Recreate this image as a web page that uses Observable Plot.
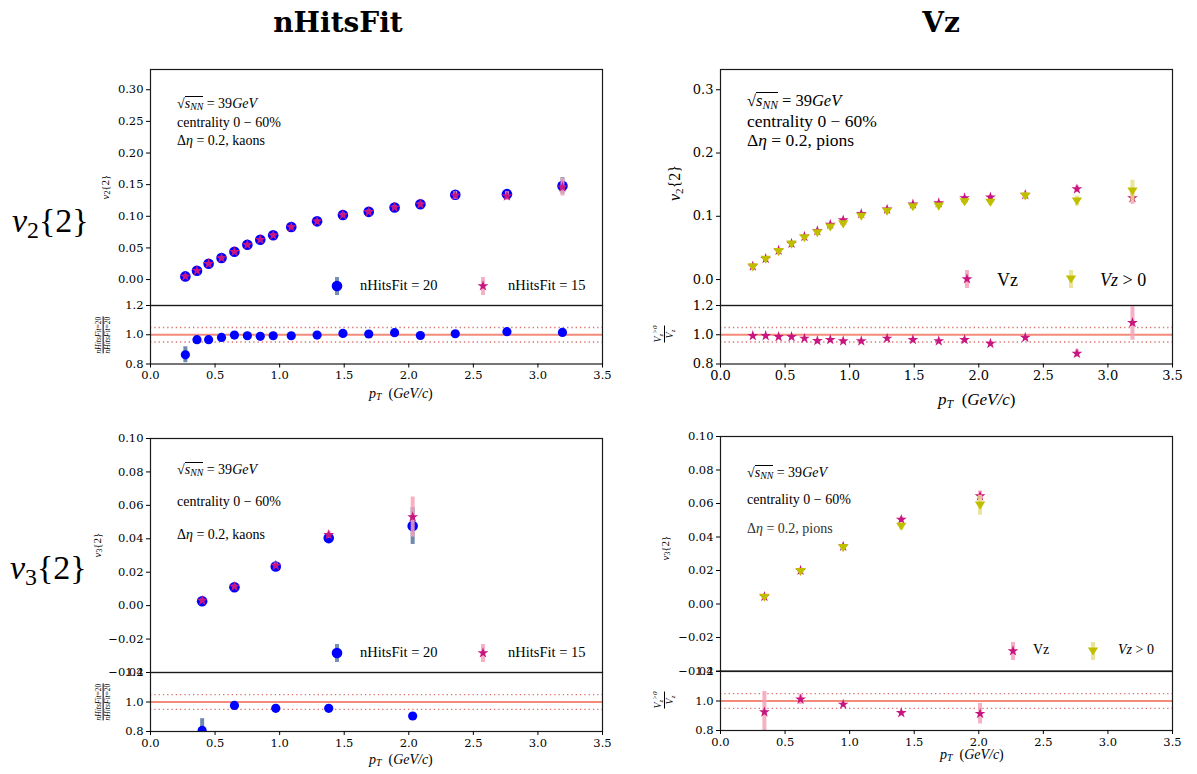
<!DOCTYPE html>
<html><head><meta charset="utf-8">
<script src="https://cdn.jsdelivr.net/npm/d3@7"></script>
<script src="https://cdn.jsdelivr.net/npm/@observablehq/plot@0.6"></script>
<style>
body{margin:0;background:#fff;}
#root{position:relative;width:1197px;height:774px;overflow:hidden;font-family:'Liberation Serif',serif;color:#000;background:#fff}
.abs{position:absolute;white-space:nowrap;line-height:1}
sub{font-size:70%;vertical-align:-0.25em;line-height:0}
#root svg text{font-family:'DejaVu Serif',serif}
</style></head><body><div id="root"></div>
<script>
// ---------------- data ----------------
const xTicks = [0, 0.5, 1, 1.5, 2, 2.5, 3, 3.5];
const v2TicksL = [0, 0.05, 0.10, 0.15, 0.20, 0.25, 0.30];
const v2TicksR = [0, 0.1, 0.2, 0.3];
const v3Ticks = [-0.04, -0.02, 0, 0.02, 0.04, 0.06, 0.08, 0.10];
const ratioTicks = [0.8, 1.0, 1.2];
const ratioUnity = [1];
const ratioBand = [0.95, 1.05];

// v2{2} kaons, nHitsFit comparison
const kaonPtV2 = [0.27,0.36,0.45,0.55,0.65,0.75,0.85,0.95,1.09,1.29,1.49,1.69,1.89,2.09,2.36,2.76,3.19];
const kaonV2_20 = [0.005,0.014,0.025,0.034,0.044,0.055,0.063,0.070,0.083,0.092,0.102,0.107,0.114,0.119,0.134,0.135,0.148];
const kaonV2_20Err = [0.002,0.002,0.002,0.002,0.002,0.002,0.002,0.002,0.002,0.002,0.003,0.003,0.003,0.003,0.005,0.006,0.013];
const kaonV2_15 = [0.005,0.014,0.025,0.034,0.044,0.055,0.063,0.070,0.083,0.092,0.102,0.107,0.114,0.119,0.133,0.132,0.146];
const kaonV2_15Err = [0.002,0.002,0.002,0.002,0.002,0.002,0.002,0.002,0.002,0.002,0.003,0.003,0.003,0.003,0.006,0.007,0.014];
const kaonV2Ratio = [0.863,0.966,0.966,0.982,0.998,0.993,0.989,0.993,0.993,0.998,1.009,1.005,1.014,0.995,1.007,1.021,1.016];
const kaonV2RatioErr = [0.055,0.012,0.010,0.008,0.008,0.008,0.008,0.008,0.008,0.008,0.008,0.008,0.010,0.010,0.012,0.015,0.020];

// v2{2} pions, Vz comparison
const pionPtV2 = [0.25,0.35,0.45,0.55,0.65,0.75,0.85,0.95,1.09,1.29,1.49,1.69,1.89,2.09,2.36,2.76,3.19];
const pionV2_vz = [0.021,0.033,0.046,0.057,0.068,0.077,0.087,0.094,0.104,0.111,0.119,0.121,0.129,0.130,0.134,0.143,0.129];
const pionV2_vzErr = [0.001,0.001,0.001,0.001,0.001,0.001,0.001,0.001,0.001,0.002,0.002,0.002,0.002,0.003,0.004,0.005,0.010];
const pionV2_vz0 = [0.020,0.032,0.044,0.056,0.066,0.074,0.083,0.088,0.100,0.108,0.115,0.116,0.123,0.122,0.132,0.124,0.140];
const pionV2_vz0Err = [0.002,0.002,0.002,0.002,0.002,0.002,0.002,0.002,0.002,0.003,0.003,0.003,0.004,0.004,0.005,0.008,0.017];
const pionV2Ratio = [0.993,0.993,0.986,0.986,0.975,0.959,0.966,0.957,0.957,0.975,0.966,0.957,0.966,0.940,0.981,0.872,1.082];
const pionV2RatioErr = [0.008,0.008,0.008,0.008,0.008,0.008,0.008,0.008,0.010,0.010,0.010,0.012,0.012,0.015,0.020,0.025,0.120];

// v3{2} kaons
const kaonPtV3 = [0.40,0.65,0.97,1.38,2.03];
const kaonV3_20 = [0.0026,0.0110,0.0234,0.0404,0.0476];
const kaonV3_20Err = [0.001,0.001,0.0015,0.002,0.011];
const kaonV3_15 = [0.0030,0.0114,0.0240,0.0424,0.0530];
const kaonV3_15Err = [0.001,0.001,0.0015,0.002,0.012];
const kaonV3Ratio = [0.807,0.977,0.957,0.957,0.905];
const kaonV3RatioErr = [0.08,0.012,0.012,0.012,0.012];

// v3{2} pions
const pionPtV3 = [0.34,0.62,0.95,1.40,2.01];
const pionV3_vz = [0.0044,0.0200,0.0344,0.0504,0.0644];
const pionV3_vzErr = [0.001,0.001,0.001,0.0015,0.003];
const pionV3_vz0 = [0.0040,0.0194,0.0336,0.0464,0.0590];
const pionV3_vz0Err = [0.001,0.001,0.0015,0.002,0.006];
const pionV3Ratio = [0.925,1.011,0.977,0.920,0.914];
const pionV3RatioErr = [0.14,0.035,0.015,0.010,0.070];

// ---------------- styles ----------------
const SERIF = "'DejaVu Serif', serif";
const C_BLUE = "#0000ff", C_BLUE_ERR = "#55759f";
const C_STAR = "#c8157f", C_STAR_ERR = "#f5a3ba";
const C_TRI = "#bfbf00", C_TRI_ERR = "#e8df8c";
const triangleDown = {draw(ctx, size) {
  const s = Math.sqrt(size / Math.PI);
  ctx.moveTo(-s * 1.15, -s * 0.8); ctx.lineTo(s * 1.15, -s * 0.8); ctx.lineTo(0, s); ctx.closePath();
}};

const rows = (xs, ys, es) => xs.map((x, i) => ({x, y: ys[i], e: es[i]}));

function errMarks(data, color, width = 4, opacity = 0.85) {
  return Plot.ruleX(data, {x: "x", y1: d => d.y - d.e, y2: d => d.y + d.e, stroke: color, strokeWidth: width, strokeOpacity: opacity, clip: true});
}
function circles(data, r = 5.3) { return Plot.dot(data, {x: "x", y: "y", r, fill: C_BLUE, stroke: "none", clip: true}); }
function stars(data, r = 3.4) { return Plot.dot(data, {x: "x", y: "y", r, symbol: "star", fill: C_STAR, stroke: "none", clip: true}); }
function tris(data, r = 4.5) { return Plot.dot(data, {x: "x", y: "y", r, symbol: triangleDown, fill: C_TRI, stroke: "none", clip: true}); }
function ratioLines() {
  return [
    Plot.ruleY(ratioBand, {stroke: "#d9706e", strokeWidth: 1.4, strokeDasharray: "1.3,3"}),
    Plot.ruleY(ratioUnity, {stroke: "#f48a7a", strokeWidth: 2})
  ];
}

const root = document.getElementById("root");
const ML = 60, MR = 12, MT = 12;

function panel({x0, x1, y0, y1, yDomain, yTicks, yFmt, fs, xAxis, marks}) {
  const mb = xAxis ? 36 : 2;
  const W = ML + (x1 - x0) + MR, H = MT + (y1 - y0) + mb;
  const svg = Plot.plot({
    width: W, height: H, marginLeft: ML, marginRight: MR, marginTop: MT, marginBottom: mb,
    style: {fontFamily: SERIF, fontSize: fs + "px", background: "none", overflow: "visible", color: "#000"},
    x: {domain: [0, 3.5], axis: null},
    y: {domain: yDomain, axis: null},
    marks: [
      ...marks,
      Plot.frame({stroke: "#1a1a1a", strokeWidth: 1.2}),
      Plot.axisY({ticks: yTicks, tickFormat: yFmt, tickSize: 4, tickPadding: 3, fontSize: fs, fontFamily: SERIF, label: null}),
      ...(xAxis ? [Plot.axisX({ticks: xTicks, tickFormat: d3.format(".1f"), tickSize: 4, tickPadding: 3, fontSize: fs, fontFamily: SERIF, label: null})] : [])
    ]
  });
  svg.style.position = "absolute";
  svg.style.left = (x0 - ML) + "px";
  svg.style.top = (y0 - MT) + "px";
  root.appendChild(svg);
}

function addHTML(html, x, baseline, size, opts = {}) {
  const d = document.createElement("div");
  d.className = "abs";
  d.style.left = x + "px";
  d.style.top = (baseline - 0.84 * size) + "px";
  d.style.fontSize = size + "px";
  if (opts.family) d.style.fontFamily = opts.family;
  if (opts.weight) d.style.fontWeight = opts.weight;
  if (opts.center) d.style.transform = "translateX(-50%)";
  if (opts.color) d.style.color = opts.color;
  d.innerHTML = html;
  root.appendChild(d);
}
function addRot(html, cx, cy, size) {
  const d = document.createElement("div");
  d.className = "abs";
  d.style.left = cx + "px"; d.style.top = cy + "px"; d.style.fontSize = size + "px";
  d.style.transform = "translate(-50%,-50%) rotate(-90deg)";
  d.innerHTML = html; root.appendChild(d);
}
function legendMarker(kind, cx, cy, k = 1) {
  let inner = "";
  if (kind === "circle") inner = `<rect x="-2" y="-9" width="4" height="18" fill="${C_BLUE_ERR}" opacity="0.8"/><circle r="${5.3*k}" fill="${C_BLUE}"/>`;
  if (kind === "star") inner = `<rect x="-2" y="-9" width="4" height="18" fill="${C_STAR_ERR}" opacity="0.85"/><path d="${d3.symbol(d3.symbolStar, Math.PI*3.4*3.4*k*k)()}" fill="${C_STAR}"/>`;
  if (kind === "tri") inner = `<rect x="-2" y="-9" width="4" height="18" fill="${C_TRI_ERR}" opacity="0.85"/><path d="${d3.symbol(triangleDown, Math.PI*4.5*4.5*k*k)()}" fill="${C_TRI}"/>`;
  const d = document.createElement("div");
  d.className = "abs";
  d.style.left = (cx - 12) + "px"; d.style.top = (cy - 12) + "px";
  d.innerHTML = `<svg width="24" height="24" viewBox="-12 -12 24 24">${inner}</svg>`;
  root.appendChild(d);
}

const f2 = d3.format(".2f"), f1 = d3.format(".1f");

// ---------------- top-left: v2 kaons nHitsFit ----------------
panel({x0: 150, x1: 602, y0: 69, y1: 305, yDomain: [-0.041, 0.332], yTicks: v2TicksL, yFmt: f2, fs: 11.5, xAxis: false, marks: [
  errMarks(rows(kaonPtV2, kaonV2_20, kaonV2_20Err), C_BLUE_ERR),
  circles(rows(kaonPtV2, kaonV2_20, kaonV2_20Err)),
  errMarks(rows(kaonPtV2, kaonV2_15, kaonV2_15Err), C_STAR_ERR),
  stars(rows(kaonPtV2, kaonV2_15, kaonV2_15Err))
]});
panel({x0: 150, x1: 602, y0: 305, y1: 363.5, yDomain: [0.8, 1.2], yTicks: ratioTicks, yFmt: f1, fs: 11.5, xAxis: true, marks: [
  ...ratioLines(),
  errMarks(rows(kaonPtV2, kaonV2Ratio, kaonV2RatioErr), C_BLUE_ERR),
  circles(rows(kaonPtV2, kaonV2Ratio, kaonV2RatioErr), 4.6)
]});

// ---------------- top-right: v2 pions Vz ----------------
panel({x0: 720, x1: 1172, y0: 69, y1: 305, yDomain: [-0.041, 0.332], yTicks: v2TicksR, yFmt: f1, fs: 13, xAxis: false, marks: [
  errMarks(rows(pionPtV2, pionV2_vz, pionV2_vzErr), C_STAR_ERR),
  stars(rows(pionPtV2, pionV2_vz, pionV2_vzErr)),
  errMarks(rows(pionPtV2, pionV2_vz0, pionV2_vz0Err), C_TRI_ERR),
  tris(rows(pionPtV2, pionV2_vz0, pionV2_vz0Err))
]});
panel({x0: 720, x1: 1172, y0: 305, y1: 363.5, yDomain: [0.8, 1.2], yTicks: ratioTicks, yFmt: f1, fs: 13, xAxis: true, marks: [
  ...ratioLines(),
  errMarks(rows(pionPtV2, pionV2Ratio, pionV2RatioErr), C_STAR_ERR),
  stars(rows(pionPtV2, pionV2Ratio, pionV2RatioErr))
]});

// ---------------- bottom-left: v3 kaons nHitsFit ----------------
panel({x0: 150, x1: 602, y0: 438, y1: 672, yDomain: [-0.04, 0.10], yTicks: v3Ticks, yFmt: f2, fs: 11.5, xAxis: false, marks: [
  errMarks(rows(kaonPtV3, kaonV3_20, kaonV3_20Err), C_BLUE_ERR),
  circles(rows(kaonPtV3, kaonV3_20, kaonV3_20Err)),
  errMarks(rows(kaonPtV3, kaonV3_15, kaonV3_15Err), C_STAR_ERR),
  stars(rows(kaonPtV3, kaonV3_15, kaonV3_15Err))
]});
panel({x0: 150, x1: 602, y0: 672, y1: 731, yDomain: [0.8, 1.2], yTicks: ratioTicks, yFmt: f1, fs: 11.5, xAxis: true, marks: [
  ...ratioLines(),
  errMarks(rows(kaonPtV3, kaonV3Ratio, kaonV3RatioErr), C_BLUE_ERR),
  circles(rows(kaonPtV3, kaonV3Ratio, kaonV3RatioErr), 4.6)
]});

// ---------------- bottom-right: v3 pions Vz ----------------
panel({x0: 720, x1: 1172, y0: 436, y1: 670.5, yDomain: [-0.04, 0.10], yTicks: v3Ticks, yFmt: f2, fs: 11.5, xAxis: false, marks: [
  errMarks(rows(pionPtV3, pionV3_vz, pionV3_vzErr), C_STAR_ERR),
  stars(rows(pionPtV3, pionV3_vz, pionV3_vzErr)),
  errMarks(rows(pionPtV3, pionV3_vz0, pionV3_vz0Err), C_TRI_ERR),
  tris(rows(pionPtV3, pionV3_vz0, pionV3_vz0Err))
]});
panel({x0: 720, x1: 1172, y0: 670.5, y1: 729.5, yDomain: [0.8, 1.2], yTicks: ratioTicks, yFmt: f1, fs: 11.5, xAxis: true, marks: [
  ...ratioLines(),
  errMarks(rows(pionPtV3, pionV3Ratio, pionV3RatioErr), C_STAR_ERR),
  stars(rows(pionPtV3, pionV3Ratio, pionV3RatioErr))
]});

// ---------------- titles & labels ----------------
addHTML("nHitsFit", 338, 33, 28, {family: SERIF, weight: "bold", center: true});
addHTML("Vz", 941, 33, 28, {family: SERIF, weight: "bold", center: true});
addHTML("<i>v</i><sub>2</sub>{2}", 12, 233, 34);
addHTML("<i>v</i><sub>3</sub>{2}", 10, 580, 34);

const sqrtS = `√<span style="display:inline-block;border-top:1px solid #000;line-height:1"><i>s</i><sub><i>NN</i></sub></span> = 39<i>GeV</i>`;
// annotations
addHTML(sqrtS, 177, 107.5, 14);
addHTML("centrality 0 − 60%", 177, 127.5, 14);
addHTML("Δ<i>η</i> = 0.2, kaons", 177, 146, 14);
addHTML(sqrtS, 747, 105.5, 16.5);
addHTML("centrality 0 − 60%", 747, 128, 17.5);
addHTML("Δ<i>η</i> = 0.2, pions", 747, 146.5, 17.5);
addHTML(sqrtS, 177, 474, 14);
addHTML("centrality 0 − 60%", 177, 507, 14);
addHTML("Δ<i>η</i> = 0.2, kaons", 177, 540, 14);
addHTML(sqrtS, 747, 477, 14);
addHTML("centrality 0 − 60%", 747, 505, 14);
addHTML("Δ<i>η</i> = 0.2, pions", 747, 533.5, 14, {color: "#333"});

// legends
legendMarker("circle", 337, 285.7); addHTML("nHitsFit = 20", 360, 290, 14.5);
legendMarker("star", 483, 285.7);   addHTML("nHitsFit = 15", 508, 290, 14.5);
legendMarker("circle", 337, 653.3); addHTML("nHitsFit = 20", 360, 657.5, 14.5);
legendMarker("star", 483, 653.3);   addHTML("nHitsFit = 15", 508, 657.5, 14.5);
legendMarker("star", 967, 279);     addHTML("Vz", 997, 286, 18);
legendMarker("tri", 1071, 279);     addHTML("<i>Vz</i> &gt; 0", 1100, 286, 18);
legendMarker("star", 1013, 650.7);  addHTML("Vz", 1033, 655, 14);
legendMarker("tri", 1093, 650.7);   addHTML("<i>Vz</i> &gt; 0", 1118, 655, 14);

// axis labels
const ptLab = `<i>p<sub>T</sub></i>&nbsp;&nbsp;(<i>GeV/c</i>)`;
addHTML(ptLab, 369, 399, 14);
addHTML(ptLab, 938, 405, 17);
addHTML(ptLab, 369, 765, 14);
addHTML(ptLab, 940, 760, 14);

addRot("<i>v</i><sub>2</sub>{2}", 105, 187, 11);
addRot("<i>v</i><sub>2</sub>{2}", 675, 183, 16);
addRot("<i>v</i><sub>3</sub>{2}", 97, 545, 11);
addRot("<i>v</i><sub>3</sub>{2}", 665, 548, 11);

const fracNH = `<div style="text-align:center;line-height:1.05"><div><i>nHitsFit</i>=20</div><div style="border-top:0.8px solid #000"><i>nHitsFit</i>=20</div></div>`;
const fracVz = `<div style="text-align:center;line-height:1.05"><div><i>V<sub>z</sub><sup style="font-size:70%;line-height:0">&gt;0</sup></i></div><div style="border-top:0.8px solid #000"><i>V<sub>z</sub></i></div></div>`;
addRot(fracNH, 103, 335, 7.5);
addRot(fracVz, 664, 334, 10);
addRot(fracNH, 103, 702, 7.5);
addRot(fracVz, 664, 700, 10);
</script></body></html>
